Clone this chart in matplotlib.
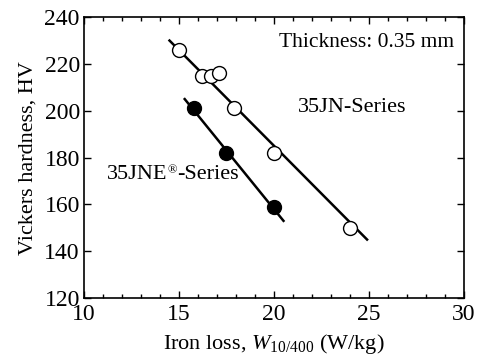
import numpy as np
import matplotlib
matplotlib.use('Agg')
import matplotlib.pyplot as plt
from matplotlib.ticker import MultipleLocator

plt.rcParams['font.family'] = ['Liberation Serif', 'DejaVu Serif']
plt.rcParams['mathtext.fontset'] = 'custom'
plt.rcParams['mathtext.rm'] = 'Liberation Serif'
plt.rcParams['mathtext.it'] = 'Liberation Serif:italic'

# 35JN series (open circles)
jn_loss = [15.0, 16.2, 16.7, 17.1, 17.9, 20.0, 24.0]
jn_hv = [226, 215, 215, 216, 201, 182, 150]
jn_fit_x = [14.5, 24.9]
jn_fit_y = [230, 145]

# 35JNE series (filled circles)
jne_loss = [15.8, 17.5, 20.0]
jne_hv = [201, 182, 159]
jne_fit_x = [15.3, 20.5]
jne_fit_y = [205, 153]

fig = plt.figure(figsize=(4.84, 3.57), dpi=100)
ax = fig.add_axes([0.1736, 0.165, 0.785, 0.787])

ax.plot(jn_fit_x, jn_fit_y, color='black', lw=1.8, zorder=2)
ax.plot(jne_fit_x, jne_fit_y, color='black', lw=1.8, zorder=2)
ax.plot(jn_loss, jn_hv, 'o', ms=10, mfc='white', mec='black', mew=1.0, zorder=3)
ax.plot(jne_loss, jne_hv, 'o', ms=10, mfc='black', mec='black', mew=1.0, zorder=3)

ax.set_xlim(10, 30)
ax.set_ylim(120, 240)
ax.xaxis.set_major_locator(MultipleLocator(5))
ax.xaxis.set_minor_locator(MultipleLocator(1))
ax.yaxis.set_major_locator(MultipleLocator(20))
ax.tick_params(which='both', direction='in', top=True, right=True, labelsize=17)
ax.tick_params(axis='x', pad=4)
ax.tick_params(axis='y', pad=3)
ax.tick_params(which='major', length=5, width=1)
ax.tick_params(which='minor', length=3, width=1)
for s in ax.spines.values():
    s.set_linewidth(1.2)

ax.set_xlabel(r'Iron loss, $W_{\rm 10/400}$ (W/kg)', fontsize=16, labelpad=5)
ax.set_ylabel('Vickers hardness, HV', fontsize=16, labelpad=5)

ax.text(29.5, 229, 'Thickness: 0.35 mm', ha='right', va='center', fontsize=15.5)
ax.text(24.1, 201.5, '35JN-Series', ha='center', va='center', fontsize=16)

# series name with a small registered sign
t1 = ax.text(11.2, 173, '35JNE', ha='left', va='center', fontsize=16)
t2 = ax.annotate('®', xy=(1, 0.72), xycoords=t1, ha='left', va='center', fontsize=9)
ax.annotate('-Series', xy=(1, 0), xycoords=(t2, t1), ha='left', va='bottom', fontsize=16)

fig.savefig('out.png', dpi=100)
